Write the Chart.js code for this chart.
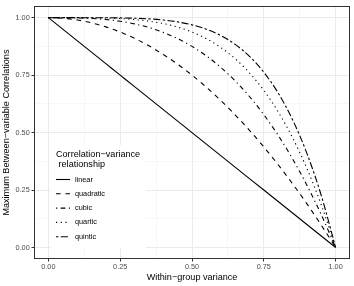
<!DOCTYPE html>
<html>
<head>
<meta charset="utf-8">
<script src="https://cdn.jsdelivr.net/npm/chart.js@4/dist/chart.umd.min.js"></script>
<style>
html,body{margin:0;padding:0;background:#fff;}
canvas{display:block;}
</style>
</head>
<body>
<canvas id="c" width="354" height="286"></canvas>
<script>
// ---- data ----
const withinVariance = [0,0.05,0.10,0.15,0.20,0.25,0.30,0.35,0.40,0.45,0.50,0.55,0.60,0.65,0.70,0.75,0.80,0.85,0.90,0.95,1.00];
const linear    = [1,0.95,0.90,0.85,0.80,0.75,0.70,0.65,0.60,0.55,0.50,0.45,0.40,0.35,0.30,0.25,0.20,0.15,0.10,0.05,0];
const quadratic = [1,0.9975,0.99,0.9775,0.96,0.9375,0.91,0.8775,0.84,0.7975,0.75,0.6975,0.64,0.5775,0.51,0.4375,0.36,0.2775,0.19,0.0975,0];
const cubic     = [1,0.9999,0.999,0.9966,0.992,0.9844,0.973,0.9571,0.936,0.9089,0.875,0.8336,0.784,0.7254,0.657,0.5781,0.488,0.3859,0.271,0.1426,0];
const quartic   = [1,1,0.9999,0.9995,0.9984,0.9961,0.9919,0.985,0.9744,0.959,0.9375,0.9085,0.8704,0.8215,0.7599,0.6836,0.5904,0.478,0.3439,0.1855,0];
const quintic   = [1,1,1,0.9999,0.9997,0.999,0.9976,0.9947,0.9898,0.9816,0.9688,0.9497,0.9222,0.884,0.8319,0.7627,0.6723,0.5563,0.4095,0.2262,0];
const seriesNames = ["linear","quadratic","cubic","quartic","quintic"];
const tickValues  = [0,0.125,0.25,0.375,0.5,0.625,0.75,0.875,1];
const majorTicks  = [0,0.25,0.5,0.75,1];
const legendTitle = ["Correlation\u2212variance"," relationship"];
const xTitle = "Within\u2212group variance";
const yTitle = "Maximum Between\u2212variable Correlations";

const seriesValues = [linear, quadratic, cubic, quartic, quintic];
const dashes = [[], [4.7,4.7], [1.2,3.5,4.7,3.5], [1.2,3.5], [2.4,2.4,7.1,2.4]];

Chart.defaults.font.family = '"Liberation Sans", Arial, Helvetica, sans-serif';

const isMajor = v => majorTicks.some(m => Math.abs(m - v) < 1e-9);

const datasets = seriesValues.map((arr, k) => ({
  label: seriesNames[k],
  data: withinVariance.map((x, i) => ({x: x, y: arr[i]})),
  borderColor: '#000',
  borderWidth: 1.1,
  borderDash: dashes[k],
  pointRadius: 0,
  fill: false,
  cubicInterpolationMode: 'monotone'
}));

const panelPlugin = {
  id: 'panel',
  afterDatasetsDraw(chart) {
    const ctx = chart.ctx;
    const a = chart.chartArea;
    ctx.save();
    // legend box
    const bx = 51, by = 145, bw = 95, bh = 103;
    ctx.fillStyle = '#fff';
    ctx.fillRect(bx, by, bw, bh);
    ctx.fillStyle = '#000';
    ctx.textBaseline = 'middle';
    ctx.textAlign = 'left';
    ctx.font = '9.1px "Liberation Sans", Arial, sans-serif';
    ctx.fillText(legendTitle[0], 56, 154);
    ctx.fillText(legendTitle[1], 56, 164.5);
    ctx.font = '7.3px "Liberation Sans", Arial, sans-serif';
    chart.data.datasets.forEach((ds, i) => {
      const cy = 179.5 + 14.3 * i;
      ctx.save();
      ctx.strokeStyle = '#000';
      ctx.lineWidth = 1.1;
      ctx.setLineDash(ds.borderDash);
      ctx.beginPath();
      ctx.moveTo(56, cy);
      ctx.lineTo(70, cy);
      ctx.stroke();
      ctx.restore();
      ctx.fillStyle = '#000';
      ctx.fillText(ds.label, 75, cy);
    });
    // panel border
    ctx.strokeStyle = '#333';
    ctx.lineWidth = 1;
    ctx.strokeRect(Math.round(a.left) + 0.5, Math.round(a.top) + 0.5,
                   Math.round(a.right - a.left) - 1, Math.round(a.bottom - a.top) - 1);
    ctx.restore();
  }
};

const gridOpts = {
  color: c => isMajor(c.tick.value) ? '#EBEBEB' : '#F3F3F3',
  lineWidth: c => isMajor(c.tick.value) ? 1 : 0.7,
  tickColor: c => isMajor(c.tick.value) ? '#333' : 'rgba(0,0,0,0)',
  tickWidth: 1,
  tickLength: 2.5,
  drawTicks: true
};

new Chart(document.getElementById('c'), {
  type: 'line',
  data: { datasets },
  plugins: [panelPlugin],
  options: {
    responsive: false,
    devicePixelRatio: 1,
    animation: false,
    layout: { padding: { top: 4, right: 4, left: 0, bottom: 0 } },
    plugins: { legend: { display: false }, tooltip: { enabled: false } },
    scales: {
      x: {
        type: 'linear', min: -0.05, max: 1.05,
        afterBuildTicks: s => { s.ticks = tickValues.map(v => ({value: v})); },
        afterFit: s => { s.height = 27; },
        border: { display: false },
        grid: gridOpts,
        ticks: {
          autoSkip: false, maxRotation: 0, padding: 1.5,
          color: '#4D4D4D', font: { size: 7.3 },
          callback: v => isMajor(v) ? v.toFixed(2) : ''
        },
        title: { display: true, text: xTitle, color: '#000', font: { size: 9.1 }, padding: { top: 0, bottom: 3 } }
      },
      y: {
        type: 'linear', min: -0.05, max: 1.05,
        afterBuildTicks: s => { s.ticks = tickValues.map(v => ({value: v})); },
        afterFit: s => { s.width = 34; },
        border: { display: false },
        grid: gridOpts,
        ticks: {
          autoSkip: false, padding: 1.8,
          color: '#4D4D4D', font: { size: 7.3 },
          callback: v => isMajor(v) ? v.toFixed(2) : ''
        },
        title: { display: true, text: yTitle, color: '#000', font: { size: 9.1 }, padding: { top: 1.5, bottom: 0 } }
      }
    }
  }
});
</script>
</body>
</html>
